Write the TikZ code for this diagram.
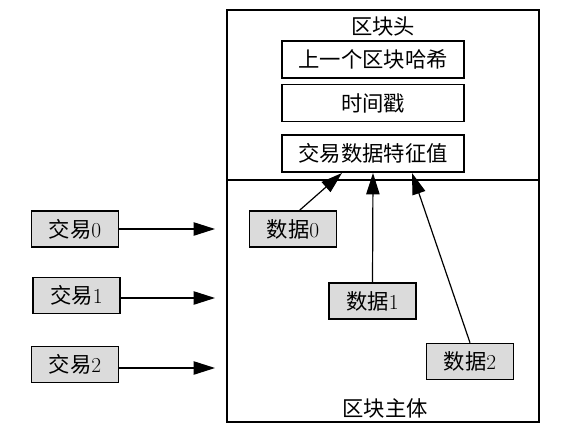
\documentclass[tikz,border=0pt]{standalone}
\usepackage{fontspec}
\newfontfamily\cjk{Noto Sans CJK SC}
\usetikzlibrary{arrows.meta,positioning}

\begin{document}
\begin{tikzpicture}[x=0.75pt, y=-0.75pt, font=\cjk\fontsize{16}{19}\selectfont, inner sep=0pt,
  part/.style={draw, line width=0.8pt, minimum width=234pt},
  field/.style={draw, line width=1.2pt, minimum width=136.5pt, minimum height=27.75pt},
  item/.style={draw, line width=1.2pt, fill=gray!28, minimum width=65pt, minimum height=27pt},
  feed/.style={-{Triangle[length=16pt,width=10pt]}, line width=0.9pt}]
\useasboundingbox (0,0) rectangle (573,432);
\node[part, minimum height=127.5pt] (head) at (383,95) {};
\node[part, minimum height=181.5pt] (body) at (383,301) {};
\node (headlabel) at (383,27) {区块头};
\node (bodylabel) at (385,408) {区块主体};
\node[field] (prev) at (373,59.5) {上一个区块哈希};
\node[field, below=3.75pt of prev] (time) {时间戳};
\node[field, below=9pt of time] (feat) {交易数据特征值};
% transactions feeding into the block body
\node[item] (tx0) at (75,229) {交易\textrm{0}};
\node[item] (tx1) at (76.5,295.5) {交易\textrm{1}};
\node[item] (tx2) at (75,364.5) {交易\textrm{2}};
\coordinate (in0) at (215,229);
\coordinate (in1) at (215,298);
\coordinate (in2) at (215,368);
\draw[feed] (tx0) -- (in0);
\draw[feed] (tx1.east |- in1) -- (in1);
\draw[feed] (tx2.east |- in2) -- (in2);
% data items hashed into the header
\node[item] (d0) at (293,229) {数据\textrm{0}};
\node[item] (d1) at (372.5,301) {数据\textrm{1}};
\node[item] (d2) at (470,361.5) {数据\textrm{2}};
\draw[feed] ([xshift=5pt]d0.north) -- ([xshift=-23.25pt]feat.south);
\draw[feed] (d1.north) -- (feat.south);
\draw[feed] (d2.north) -- ([xshift=29.25pt]feat.south);
\end{tikzpicture}
\end{document}
